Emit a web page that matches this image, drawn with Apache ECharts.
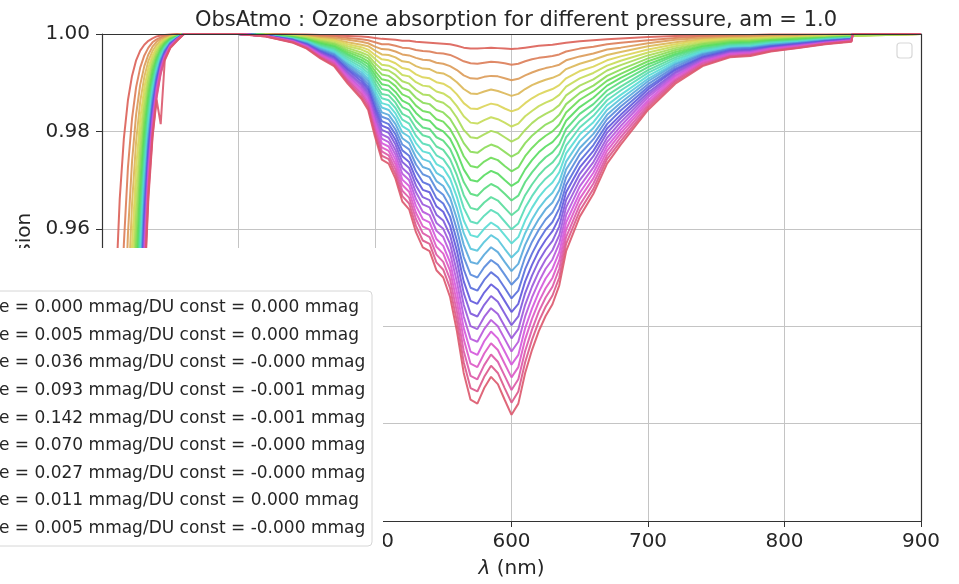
<!DOCTYPE html>
<html><head><meta charset="utf-8">
<script src="https://cdn.jsdelivr.net/npm/echarts@6/dist/echarts.min.js"></script>
<style>html,body{margin:0;padding:0;background:#fff}#chart{width:959px;height:584px}</style>
</head><body><div id="chart"></div><script>
const wavelengths = [300,305,310,313,316,319,322,325,328,331,334,337,340,343,346,350,355,360,400,420,440,450,460,470,480,490,495,500,505,510,515,520,525,530,535,540,545,550,555,560,565,570,575,580,585,590,595,600,605,610,615,620,625,630,635,640,650,660,670,680,700,720,740,760,775,790,810,830,849,850,900];

const curve00 = [0.774,0.888,0.9466,0.9662,0.9785,0.9864,0.9914,0.9946,0.9966,0.9978,0.9986,0.9991,0.9995,0.9997,0.9998,0.9999,1,1,1,1,0.9999,0.9999,0.9998,0.9997,0.9996,0.9995,0.9994,0.9992,0.9990,0.9989,0.9988,0.9986,0.9986,0.9984,0.9983,0.9982,0.9981,0.9980,0.9979,0.9976,0.9972,0.9970,0.9970,0.9971,0.9972,0.9971,0.9970,0.9969,0.9970,0.9972,0.9974,0.9976,0.9977,0.9978,0.9980,0.9982,0.9985,0.9987,0.9989,0.9991,0.9994,0.9996,0.9997,0.9998,0.9998,0.9999,0.9999,0.9999,0.9999,1,1];
const curve01 = [0.595,0.786,0.894,0.9325,0.9568,0.9726,0.9826,0.9891,0.9931,0.9956,0.9972,0.9983,0.9989,0.9993,0.9996,0.9998,0.9999,1,1,1,0.9999,0.9998,0.9996,0.9995,0.9992,0.9989,0.9987,0.9983,0.9979,0.9979,0.9976,0.9972,0.9971,0.9967,0.9965,0.9964,0.9961,0.9960,0.9957,0.9951,0.9944,0.9940,0.9939,0.9941,0.9943,0.9942,0.9940,0.9937,0.9939,0.9944,0.9948,0.9951,0.9953,0.9955,0.9958,0.9964,0.9970,0.9974,0.9979,0.9982,0.9987,0.9992,0.9995,0.9996,0.9996,0.9997,0.9998,0.9998,0.9999,1,1];
const curve02 = [0.457,0.696,0.845,0.900,0.9355,0.9589,0.9738,0.9835,0.9896,0.9934,0.9958,0.9974,0.9984,0.9990,0.9993,0.9996,0.9998,1,1,0.9999,0.9998,0.9996,0.9994,0.9992,0.9988,0.9984,0.9981,0.9974,0.9969,0.9968,0.9964,0.9958,0.9956,0.9951,0.9947,0.9946,0.9941,0.9939,0.9934,0.9926,0.9915,0.9909,0.9908,0.9912,0.9914,0.9913,0.9909,0.9905,0.9908,0.9915,0.9921,0.9926,0.9930,0.9933,0.9937,0.9946,0.9954,0.9960,0.9968,0.9972,0.9981,0.9988,0.9992,0.9994,0.9995,0.9996,0.9996,0.9997,0.9998,1,1];
const curve03 = [0.351,0.616,0.799,0.868,0.9147,0.9454,0.9652,0.9780,0.9861,0.9912,0.9945,0.9965,0.9978,0.9986,0.9991,0.9995,0.9998,1,1,0.9999,0.9997,0.9995,0.9992,0.9989,0.9983,0.9978,0.9975,0.9966,0.9958,0.9957,0.9952,0.9944,0.9942,0.9934,0.9929,0.9928,0.9921,0.9919,0.9912,0.9901,0.9887,0.9878,0.9877,0.9882,0.9886,0.9883,0.9878,0.9873,0.9877,0.9887,0.9895,0.9901,0.9906,0.9910,0.9916,0.9928,0.9939,0.9947,0.9957,0.9963,0.9975,0.9983,0.9989,0.9992,0.9993,0.9994,0.9995,0.9997,0.9997,1,1];
const curve04 = [0.269,0.545,0.755,0.838,0.894,0.9321,0.9566,0.9726,0.9826,0.9890,0.9931,0.9956,0.9972,0.9983,0.9989,0.9994,0.9997,1,1,0.9999,0.9996,0.9994,0.9990,0.9987,0.9979,0.9973,0.9968,0.9957,0.9948,0.9946,0.9940,0.9930,0.9927,0.9917,0.9911,0.9909,0.9901,0.9898,0.9890,0.9876,0.9858,0.9847,0.9846,0.9852,0.9857,0.9854,0.9847,0.9841,0.9846,0.9858,0.9868,0.9876,0.9882,0.9887,0.9895,0.9909,0.9924,0.9933,0.9946,0.9954,0.9968,0.9979,0.9987,0.9990,0.9991,0.9993,0.9994,0.9996,0.9997,1,1];
const curve05 = [0.208,0.484,0.715,0.810,0.875,0.9194,0.9484,0.9673,0.9792,0.9869,0.9917,0.9948,0.9967,0.9979,0.9987,0.9993,0.9997,1,1,0.9999,0.9996,0.9993,0.9988,0.9984,0.9975,0.9968,0.9962,0.9949,0.9937,0.9935,0.9928,0.9916,0.9913,0.9901,0.9894,0.9892,0.9882,0.9878,0.9869,0.9852,0.9831,0.9818,0.9816,0.9823,0.9829,0.9825,0.9818,0.9810,0.9816,0.9831,0.9842,0.9852,0.9859,0.9865,0.9875,0.9892,0.9909,0.9920,0.9935,0.9945,0.9962,0.9975,0.9984,0.9988,0.9989,0.9991,0.9993,0.9995,0.9996,1,1];
const curve06 = [0.162,0.430,0.676,0.783,0.856,0.9069,0.9402,0.9620,0.9759,0.9847,0.9904,0.9939,0.9962,0.9976,0.9985,0.9992,0.9996,1,1,0.9999,0.9995,0.9992,0.9986,0.9981,0.9971,0.9962,0.9956,0.9940,0.9927,0.9925,0.9916,0.9903,0.9898,0.9885,0.9876,0.9874,0.9863,0.9859,0.9848,0.9828,0.9803,0.9788,0.9786,0.9794,0.9801,0.9797,0.9788,0.9779,0.9786,0.9803,0.9817,0.9828,0.9836,0.9843,0.9854,0.9874,0.9894,0.9907,0.9925,0.9936,0.9956,0.9971,0.9981,0.9987,0.9987,0.9990,0.9992,0.9994,0.9996,1,1];
const curve07 = [0.125,0.382,0.640,0.756,0.838,0.895,0.9321,0.9569,0.9726,0.9826,0.9890,0.9931,0.9956,0.9973,0.9983,0.9991,0.9996,1,1,0.9998,0.9994,0.9990,0.9984,0.9979,0.9967,0.9957,0.9950,0.9932,0.9917,0.9914,0.9904,0.9889,0.9884,0.9869,0.9859,0.9856,0.9844,0.9839,0.9826,0.9803,0.9776,0.9758,0.9756,0.9766,0.9773,0.9768,0.9758,0.9748,0.9756,0.9776,0.9791,0.9803,0.9814,0.9821,0.9834,0.9856,0.9879,0.9894,0.9914,0.9927,0.9950,0.9967,0.9979,0.9985,0.9986,0.9988,0.9991,0.9993,0.9995,1,1];
const curve08 = [0.098,0.341,0.607,0.731,0.820,0.883,0.9243,0.9518,0.9693,0.9806,0.9877,0.9923,0.9951,0.9969,0.9981,0.9990,0.9995,1,1,0.9998,0.9994,0.9989,0.9982,0.9976,0.9963,0.9952,0.9944,0.9924,0.9907,0.9904,0.9893,0.9876,0.9870,0.9853,0.9842,0.9839,0.9825,0.9820,0.9805,0.9780,0.9749,0.9729,0.9726,0.9738,0.9746,0.9741,0.9729,0.9718,0.9726,0.9749,0.9766,0.9780,0.9791,0.9800,0.9814,0.9839,0.9865,0.9882,0.9904,0.9918,0.9944,0.9963,0.9976,0.9983,0.9984,0.9987,0.9990,0.9992,0.9994,1,1];
const curve09 = [0.076,0.304,0.576,0.707,0.803,0.871,0.9167,0.9469,0.9661,0.9785,0.9864,0.9914,0.9946,0.9966,0.9979,0.9989,0.9995,1,1,0.9998,0.9993,0.9988,0.9980,0.9974,0.9959,0.9947,0.9938,0.9916,0.9897,0.9894,0.9881,0.9863,0.9856,0.9838,0.9825,0.9822,0.9807,0.9800,0.9785,0.9757,0.9722,0.9700,0.9697,0.9710,0.9719,0.9713,0.9700,0.9688,0.9697,0.9722,0.9741,0.9757,0.9769,0.9778,0.9794,0.9822,0.9850,0.9869,0.9894,0.9910,0.9938,0.9959,0.9974,0.9981,0.9982,0.9986,0.9988,0.9992,0.9994,1,1];
const curve10 = [0.059,0.271,0.546,0.684,0.787,0.860,0.9090,0.9419,0.9629,0.9765,0.9851,0.9906,0.9941,0.9963,0.9976,0.9987,0.9994,1,1,0.9998,0.9992,0.9987,0.9978,0.9971,0.9956,0.9942,0.9932,0.9908,0.9887,0.9884,0.9870,0.9850,0.9843,0.9822,0.9808,0.9805,0.9788,0.9781,0.9764,0.9733,0.9696,0.9672,0.9668,0.9682,0.9692,0.9685,0.9672,0.9658,0.9668,0.9696,0.9716,0.9733,0.9747,0.9757,0.9774,0.9805,0.9836,0.9856,0.9884,0.9901,0.9932,0.9956,0.9971,0.9979,0.9981,0.9984,0.9987,0.9991,0.9993,1,1];
const curve11 = [0.046,0.241,0.518,0.662,0.770,0.848,0.9014,0.9370,0.9597,0.9744,0.9838,0.9898,0.9936,0.9960,0.9974,0.9986,0.9994,1,1,0.9998,0.9991,0.9986,0.9976,0.9969,0.9952,0.9937,0.9926,0.9900,0.9877,0.9874,0.9859,0.9836,0.9829,0.9807,0.9792,0.9788,0.9769,0.9762,0.9743,0.9710,0.9669,0.9643,0.9639,0.9654,0.9665,0.9658,0.9643,0.9628,0.9639,0.9669,0.9691,0.9710,0.9725,0.9736,0.9754,0.9788,0.9821,0.9844,0.9874,0.9892,0.9926,0.9952,0.9969,0.9977,0.9979,0.9983,0.9986,0.9990,0.9993,1,1];
const curve12 = [0.037,0.216,0.492,0.641,0.755,0.838,0.894,0.9322,0.9567,0.9725,0.9826,0.9890,0.9930,0.9956,0.9972,0.9985,0.9993,1,1,0.9998,0.9991,0.9985,0.9974,0.9966,0.9948,0.9932,0.9920,0.9892,0.9868,0.9864,0.9848,0.9824,0.9816,0.9791,0.9775,0.9771,0.9751,0.9743,0.9723,0.9687,0.9643,0.9615,0.9611,0.9627,0.9639,0.9631,0.9615,0.9599,0.9611,0.9643,0.9667,0.9687,0.9703,0.9715,0.9735,0.9771,0.9808,0.9832,0.9864,0.9884,0.9920,0.9948,0.9966,0.9976,0.9977,0.9982,0.9985,0.9989,0.9992,1,1];
const curve13 = [0.029,0.193,0.467,0.621,0.739,0.827,0.887,0.9275,0.9536,0.9705,0.9813,0.9882,0.9925,0.9953,0.9970,0.9984,0.9993,1,1,0.9997,0.9990,0.9984,0.9972,0.9964,0.9944,0.9927,0.9914,0.9884,0.9858,0.9854,0.9837,0.9811,0.9802,0.9776,0.9759,0.9755,0.9733,0.9725,0.9703,0.9665,0.9617,0.9587,0.9583,0.9600,0.9613,0.9604,0.9587,0.9570,0.9583,0.9617,0.9643,0.9665,0.9682,0.9695,0.9716,0.9755,0.9794,0.9819,0.9854,0.9875,0.9914,0.9944,0.9964,0.9974,0.9975,0.9980,0.9984,0.9988,0.9991,1,1];
const curve14 = [0.023,0.173,0.444,0.601,0.725,0.816,0.880,0.9228,0.9506,0.9686,0.9801,0.9874,0.9920,0.9950,0.9968,0.9983,0.9992,1,1,0.9997,0.9989,0.9983,0.9971,0.9961,0.9940,0.9922,0.9908,0.9876,0.9849,0.9844,0.9826,0.9798,0.9789,0.9761,0.9743,0.9738,0.9715,0.9706,0.9683,0.9642,0.9591,0.9559,0.9555,0.9573,0.9587,0.9578,0.9559,0.9541,0.9555,0.9591,0.9619,0.9642,0.9660,0.9674,0.9697,0.9738,0.9780,0.9807,0.9844,0.9867,0.9908,0.9940,0.9961,0.9972,0.9974,0.9979,0.9983,0.9988,0.9991,1,1];
const curve15 = [0.018,0.156,0.422,0.582,0.710,0.806,0.873,0.9183,0.9476,0.9667,0.9789,0.9867,0.9916,0.9947,0.9966,0.9982,0.9992,1,1,0.9997,0.9989,0.9981,0.9969,0.9959,0.9937,0.9917,0.9903,0.9869,0.9839,0.9834,0.9815,0.9786,0.9776,0.9747,0.9727,0.9722,0.9698,0.9688,0.9664,0.9620,0.9567,0.9532,0.9528,0.9547,0.9562,0.9552,0.9532,0.9513,0.9528,0.9567,0.9596,0.9620,0.9640,0.9654,0.9679,0.9722,0.9766,0.9795,0.9834,0.9859,0.9903,0.9937,0.9959,0.9970,0.9972,0.9978,0.9982,0.9987,0.9990,1,1];
const curve16 = [0.014,0.140,0.402,0.564,0.697,0.796,0.866,0.9138,0.9447,0.9648,0.9777,0.9859,0.9911,0.9944,0.9965,0.9981,0.9991,1,1,0.9997,0.9988,0.9980,0.9967,0.9957,0.9933,0.9912,0.9897,0.9861,0.9830,0.9825,0.9804,0.9773,0.9763,0.9732,0.9712,0.9706,0.9681,0.9670,0.9645,0.9598,0.9542,0.9506,0.9500,0.9521,0.9536,0.9526,0.9506,0.9485,0.9500,0.9542,0.9573,0.9598,0.9619,0.9634,0.9660,0.9706,0.9753,0.9784,0.9825,0.9851,0.9897,0.9933,0.9957,0.9969,0.9971,0.9976,0.9981,0.9986,0.9990,1,1];
const curve17 = [0.011,0.126,0.383,0.547,0.683,0.787,0.859,0.9094,0.9418,0.9629,0.9765,0.9851,0.9906,0.9941,0.9963,0.9980,0.9991,1,1,0.9997,0.9988,0.9979,0.9965,0.9954,0.9929,0.9908,0.9891,0.9853,0.9821,0.9815,0.9794,0.9761,0.9750,0.9718,0.9696,0.9690,0.9663,0.9652,0.9625,0.9576,0.9517,0.9479,0.9473,0.9495,0.9511,0.9500,0.9479,0.9457,0.9473,0.9517,0.9549,0.9576,0.9598,0.9614,0.9642,0.9690,0.9739,0.9772,0.9815,0.9843,0.9891,0.9929,0.9954,0.9967,0.9969,0.9975,0.9980,0.9985,0.9989,1,1];
const curve18 = [0.009,0.113,0.364,0.530,0.670,0.777,0.853,0.9049,0.9388,0.9610,0.9753,0.9844,0.9901,0.9938,0.9961,0.9979,0.9990,1,1,0.9997,0.9987,0.9978,0.9963,0.9952,0.9926,0.9903,0.9886,0.9846,0.9812,0.9806,0.9783,0.9749,0.9737,0.9703,0.9680,0.9675,0.9646,0.9635,0.9606,0.9555,0.9492,0.9452,0.9446,0.9469,0.9486,0.9475,0.9452,0.9429,0.9446,0.9492,0.9526,0.9555,0.9577,0.9595,0.9623,0.9675,0.9726,0.9760,0.9806,0.9834,0.9886,0.9926,0.9952,0.9965,0.9967,0.9974,0.9979,0.9985,0.9989,1,1];
const curve19 = [0.007,0.102,0.347,0.515,0.657,0.768,0.846,0.9006,0.9360,0.9592,0.9742,0.9836,0.9896,0.9935,0.9959,0.9978,0.9990,1,1,0.9996,0.9986,0.9977,0.9962,0.9950,0.9922,0.9898,0.9880,0.9839,0.9803,0.9797,0.9773,0.9737,0.9725,0.9689,0.9665,0.9659,0.9629,0.9617,0.9587,0.9534,0.9468,0.9426,0.9420,0.9444,0.9462,0.9450,0.9426,0.9402,0.9420,0.9468,0.9504,0.9534,0.9557,0.9575,0.9605,0.9659,0.9713,0.9749,0.9797,0.9827,0.9880,0.9922,0.9950,0.9964,0.9966,0.9972,0.9978,0.9984,0.9988,1,1];
const curve20 = [0.006,0.092,0.331,0.500,0.645,0.759,0.840,0.8964,0.9332,0.9574,0.9730,0.9829,0.9892,0.9932,0.9957,0.9977,0.9989,1,1,0.9996,0.9986,0.9976,0.9960,0.9947,0.9919,0.9894,0.9875,0.9831,0.9794,0.9787,0.9762,0.9725,0.9712,0.9675,0.9650,0.9644,0.9612,0.9600,0.9569,0.9512,0.9444,0.9400,0.9394,0.9419,0.9437,0.9425,0.9400,0.9375,0.9394,0.9444,0.9481,0.9512,0.9537,0.9556,0.9587,0.9644,0.9700,0.9737,0.9787,0.9819,0.9875,0.9919,0.9947,0.9962,0.9964,0.9971,0.9977,0.9983,0.9987,1,1];
const curve21 = [0.005,0.083,0.315,0.485,0.633,0.750,0.834,0.892,0.9305,0.9556,0.9718,0.9822,0.9887,0.9929,0.9955,0.9976,0.9989,1,1,0.9996,0.9985,0.9975,0.9958,0.9945,0.9915,0.9889,0.9870,0.9824,0.9785,0.9778,0.9752,0.9713,0.9700,0.9661,0.9635,0.9628,0.9596,0.9583,0.9550,0.9491,0.9420,0.9374,0.9368,0.9394,0.9413,0.9400,0.9374,0.9348,0.9368,0.9420,0.9459,0.9491,0.9518,0.9537,0.9570,0.9628,0.9687,0.9726,0.9778,0.9811,0.9870,0.9915,0.9945,0.9960,0.9963,0.9970,0.9976,0.9982,0.9987,1,1];
const curve22 = [0.004,0.075,0.301,0.471,0.621,0.741,0.827,0.888,0.9277,0.9538,0.9707,0.9814,0.9883,0.9926,0.9953,0.9975,0.9988,1,1,0.9996,0.9984,0.9974,0.9957,0.9943,0.9912,0.9885,0.9864,0.9817,0.9776,0.9769,0.9742,0.9701,0.9688,0.9647,0.9620,0.9613,0.9579,0.9565,0.9531,0.9470,0.9396,0.9348,0.9341,0.9369,0.9389,0.9375,0.9348,0.9321,0.9341,0.9396,0.9436,0.9470,0.9498,0.9518,0.9552,0.9613,0.9674,0.9715,0.9769,0.9803,0.9864,0.9912,0.9943,0.9959,0.9961,0.9969,0.9975,0.9982,0.9986,1,1];
const curve23 = [0.003,0.068,0.287,0.457,0.610,0.732,0.821,0.884,0.9251,0.9521,0.9696,0.9807,0.9878,0.9923,0.9952,0.9974,0.9988,1,1,0.9996,0.9984,0.9973,0.9955,0.9941,0.9908,0.9880,0.9859,0.9810,0.9767,0.9760,0.9732,0.9690,0.9676,0.9633,0.9605,0.9598,0.9563,0.9549,0.9514,0.9450,0.9373,0.9323,0.9316,0.9344,0.9365,0.9351,0.9323,0.9295,0.9316,0.9373,0.9415,0.9450,0.9478,0.9499,0.9535,0.9598,0.9662,0.9704,0.9760,0.9796,0.9859,0.9908,0.9941,0.9957,0.9960,0.9968,0.9974,0.9981,0.9986,1,1];
const curve24 = [0.002,0.061,0.274,0.444,0.599,0.724,0.815,0.880,0.9224,0.9504,0.9685,0.9800,0.9874,0.9921,0.9950,0.9973,0.9987,1,1,0.9996,0.9983,0.9972,0.9953,0.9939,0.9905,0.9876,0.9854,0.9803,0.9759,0.9751,0.9722,0.9678,0.9664,0.9620,0.9591,0.9583,0.9547,0.9532,0.9496,0.9430,0.9349,0.9298,0.9291,0.9320,0.9342,0.9327,0.9298,0.9269,0.9291,0.9349,0.9393,0.9430,0.9459,0.9481,0.9518,0.9583,0.9649,0.9693,0.9751,0.9788,0.9854,0.9905,0.9939,0.9955,0.9958,0.9966,0.9973,0.9980,0.9985,1,1];
const curve25 = [0.002,0.055,0.262,0.432,0.588,0.715,0.810,0.876,0.9198,0.9487,0.9674,0.9793,0.9869,0.9918,0.9948,0.9972,0.9987,1,1,0.9995,0.9983,0.9971,0.9952,0.9936,0.9902,0.9871,0.9849,0.9796,0.9750,0.9743,0.9712,0.9667,0.9652,0.9606,0.9576,0.9569,0.9531,0.9516,0.9478,0.9410,0.9326,0.9273,0.9266,0.9296,0.9319,0.9304,0.9273,0.9243,0.9266,0.9326,0.9372,0.9410,0.9440,0.9463,0.9500,0.9569,0.9637,0.9682,0.9743,0.9780,0.9849,0.9902,0.9936,0.9954,0.9957,0.9965,0.9972,0.9980,0.9985,1,1];
const curve26 = [0.002,0.050,0.251,0.420,0.578,0.708,0.804,0.872,0.9172,0.9470,0.9663,0.9787,0.9865,0.9815,0.9946,0.9971,0.9986,1,1,0.9995,0.9982,0.9970,0.9950,0.9934,0.9898,0.9867,0.9844,0.9789,0.9742,0.9734,0.9703,0.9656,0.9640,0.9593,0.9562,0.9554,0.9515,0.9500,0.9460,0.9390,0.9304,0.9249,0.9241,0.9273,0.9296,0.9281,0.9249,0.9218,0.9241,0.9304,0.9351,0.9390,0.9421,0.9445,0.9484,0.9554,0.9625,0.9672,0.9734,0.9773,0.9844,0.9898,0.9934,0.9952,0.9955,0.9964,0.9971,0.9979,0.9984,1,1];

const curves = [curve00,curve01,curve02,curve03,curve04,curve05,curve06,curve07,curve08,curve09,curve10,curve11,curve12,curve13,curve14,curve15,curve16,curve17,curve18,curve19,curve20,curve21,curve22,curve23,curve24,curve25,curve26];

const legendLines = [
  'e = 0.000 mmag/DU const = 0.000 mmag',
  'e = 0.005 mmag/DU const = 0.000 mmag',
  'e = 0.036 mmag/DU const = -0.000 mmag',
  'e = 0.093 mmag/DU const = -0.001 mmag',
  'e = 0.142 mmag/DU const = -0.001 mmag',
  'e = 0.070 mmag/DU const = -0.000 mmag',
  'e = 0.027 mmag/DU const = -0.000 mmag',
  'e = 0.011 mmag/DU const = 0.000 mmag',
  'e = 0.005 mmag/DU const = -0.000 mmag'
];
const titleText = 'ObsAtmo : Ozone absorption for different pressure, am = 1.0';
const xName = '{i|λ} (nm)';
const yName = 'Transmission';

const FONT = 'DejaVu Sans';
const TXT = '#262626';
const nC = curves.length;
function curveColor(k){ const h = ((0.01 + k / nC) % 1) * 360; return 'hsl(' + h.toFixed(1) + ',65%,60%)'; }

const series = curves.map((vals, k) => ({
  type: 'line', name: 'c' + k,
  data: vals.map((v, i) => [wavelengths[i], v]),
  showSymbol: false, symbol: 'none', clip: true, silent: true,
  lineStyle: { width: 2, color: curveColor(k), opacity: 0.9 },
  itemStyle: { color: curveColor(k) }
}));

const graphics = [
  { type: 'rect', z: 100, shape: { x: 0, y: 248, width: 383, height: 340 }, style: { fill: '#ffffff' } },
  { type: 'rect', z: 101, shape: { x: -10, y: 291, width: 382, height: 255, r: 4 }, style: { fill: '#ffffff', stroke: '#d6d6d6', lineWidth: 1 } },
  { type: 'rect', z: 101, shape: { x: 897, y: 43, width: 15, height: 15, r: 3 }, style: { fill: '#ffffff', stroke: '#d8d8d8', lineWidth: 1.2 } }
];
legendLines.forEach((t, i) => {
  graphics.push({ type: 'text', z: 102, x: -1, y: 307.7 + i * 27.6,
    style: { text: t, fontSize: 17, fontFamily: FONT, fill: TXT, align: 'left', verticalAlign: 'middle' } });
});

const chart = echarts.init(document.getElementById('chart'), null, { renderer: 'canvas' });
chart.setOption({
  animation: false,
  backgroundColor: '#ffffff',
  title: { text: titleText, left: 511, top: 5, textAlign: 'center',
    textStyle: { fontSize: 21, fontWeight: 'normal', fontFamily: FONT, color: TXT } },
  grid: { left: 102, right: 38, top: 34, bottom: 61, containLabel: false },
  xAxis: [
    { type: 'value', min: 300, max: 900, interval: 100, position: 'bottom',
      name: xName, nameLocation: 'middle', nameGap: 38,
      nameTextStyle: { fontSize: 20, fontFamily: FONT, color: TXT, rich: { i: { fontStyle: 'italic', fontSize: 20, fontFamily: FONT, color: TXT } } },
      axisLine: { show: true, onZero: false, lineStyle: { color: '#333', width: 1.2 } },
      axisTick: { show: true, length: 6, lineStyle: { color: '#333' } },
      axisLabel: { fontSize: 20, fontFamily: FONT, color: TXT, margin: 11 },
      splitLine: { show: true, lineStyle: { color: '#c4c4c4', width: 1 } } },
    { type: 'value', min: 300, max: 900, interval: 100, position: 'top', z: 10,
      axisLine: { show: true, onZero: false, lineStyle: { color: '#333', width: 1.2 } },
      axisTick: { show: false }, axisLabel: { show: false }, splitLine: { show: false } }
  ],
  yAxis: [
    { type: 'value', min: 0.90, max: 1.00, interval: 0.02, position: 'left',
      name: yName, nameLocation: 'middle', nameGap: 66, nameRotate: 90,
      nameTextStyle: { fontSize: 20, fontFamily: FONT, color: TXT },
      axisLine: { show: true, onZero: false, lineStyle: { color: '#333', width: 1.2 } },
      axisTick: { show: true, length: 6, lineStyle: { color: '#333' } },
      axisLabel: { fontSize: 20, fontFamily: FONT, color: TXT, margin: 12, formatter: v => v.toFixed(2) },
      splitLine: { show: true, lineStyle: { color: '#c4c4c4', width: 1 } } },
    { type: 'value', min: 0.90, max: 1.00, interval: 0.02, position: 'right', z: 10,
      axisLine: { show: true, onZero: false, lineStyle: { color: '#333', width: 1.2 } },
      axisTick: { show: false }, axisLabel: { show: false }, splitLine: { show: false } }
  ],
  series: series,
  graphic: { elements: graphics }
});
</script></body></html>
